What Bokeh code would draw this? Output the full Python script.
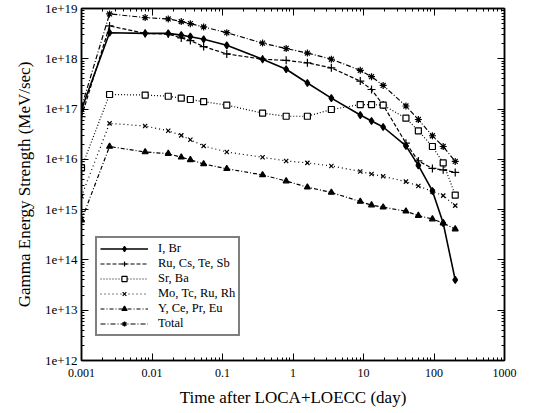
from bokeh.plotting import figure
from bokeh.models import LogAxis, Legend, LegendItem, FixedTicker
from bokeh.embed import file_html
from bokeh.resources import INLINE

# Time after LOCA+LOECC (day)
t = [0.001, 0.0025, 0.008, 0.017, 0.026, 0.035, 0.054, 0.115, 0.37, 0.8,
     1.6, 3.5, 9, 13, 19, 40, 60, 95, 135, 200]

# Gamma energy strength (MeV/sec)
i_br = [9.8e16, 3.3e18, 3.2e18, 3.2e18, 2.95e18, 2.75e18, 2.45e18, 1.85e18, 9.8e17, 6.2e17,
        3.3e17, 1.65e17, 7.6e16, 5.8e16, 4.4e16, 1.85e16, 7.6e15, 2.35e15, 5.4e14, 4.0e13]
ru_cs_te_sb = [7.1e16, 4.5e18, 3.2e18, 3.1e18, 2.6e18, 2.3e18, 1.75e18, 1.25e18, 9.8e17, 9.3e17,
               8.3e17, 6.6e17, 3.6e17, 2.45e17, 1.2e17, 2.1e16, 9.3e15, 6.6e15, 6.2e15, 5.5e15]
sr_ba = [6.8e15, 1.95e17, 1.9e17, 1.8e17, 1.65e17, 1.55e17, 1.4e17, 1.2e17, 8.3e16, 7.2e16,
         7.2e16, 9.8e16, 1.23e17, 1.23e17, 1.2e17, 6.6e16, 3.7e16, 1.8e16, 8.5e15, 1.95e15]
mo_tc_ru_rh = [1.85e15, 5.2e16, 4.6e16, 3.7e16, 3.0e16, 2.45e16, 1.85e16, 1.4e16, 1.1e16, 9.3e15,
               8.5e15, 7.4e15, 5.75e15, 5.1e15, 4.6e15, 3.6e15, 2.95e15, 2.3e15, 1.9e15, 1.2e15]
y_ce_pr_eu = [6.2e14, 1.8e16, 1.4e16, 1.3e16, 1.1e16, 9.8e15, 8.1e15, 6.5e15, 4.9e15, 3.7e15,
              2.8e15, 2.2e15, 1.45e15, 1.23e15, 1.12e15, 9.3e14, 7.6e14, 6.5e14, 5.4e14, 4.1e14]
total = [1.1e17, 7.8e18, 6.6e18, 6.2e18, 5.5e18, 5.0e18, 4.3e18, 3.3e18, 2.05e18, 1.6e18,
         1.3e18, 9.8e17, 5.9e17, 4.4e17, 2.95e17, 1.15e17, 6.2e16, 2.95e16, 1.8e16, 9.1e15]

series_names = ["I, Br", "Ru, Cs, Te, Sb", "Sr, Ba", "Mo, Tc, Ru, Rh", "Y, Ce, Pr, Eu", "Total"]

x_ticks = [0.001, 0.01, 0.1, 1, 10, 100, 1000]
x_tick_labels = ["0.001", "0.01", "0.1", "1", "10", "100", "1000"]
y_ticks = [1e12, 1e13, 1e14, 1e15, 1e16, 1e17, 1e18, 1e19]
y_tick_labels = ["1e+12", "1e+13", "1e+14", "1e+15", "1e+16", "1e+17", "1e+18", "1e+19"]

FONT = "Liberation Serif"

x_minor = [m * 10.0 ** e for e in range(-3, 3) for m in range(2, 10)]
y_minor = [m * 10.0 ** e for e in range(12, 19) for m in range(2, 10)]

p = figure(x_axis_type="log", y_axis_type="log",
           x_range=(0.001, 1000), y_range=(1e12, 1e19),
           frame_width=423, frame_height=352,
           min_border_left=81, min_border_right=34, min_border_top=8, min_border_bottom=45,
           output_backend="svg", toolbar_location=None,
           background_fill_color="white", border_fill_color="white")
p.grid.visible = False
p.outline_line_color = "black"
p.outline_line_width = 1.5

styles = [
    dict(data=i_br, marker="diamond", size=7, fill="black", dash="solid", lw=1.6),
    dict(data=ru_cs_te_sb, marker="cross", size=8, fill="black", dash="4 2", lw=1.2),
    dict(data=sr_ba, marker="square", size=6, fill="white", dash="1 2", lw=1.2),
    dict(data=mo_tc_ru_rh, marker="x", size=6, fill="black", dash="1 3", lw=1.2),
    dict(data=y_ce_pr_eu, marker="triangle", size=6, fill="black", dash="4 2 1 2", lw=1.2),
    dict(data=total, marker="asterisk", size=7, fill="black", dash="5 2 1 2", lw=1.2),
]

items = []
for name, st in zip(series_names, styles):
    ln = p.line(t, st["data"], line_color="black", line_width=st["lw"], line_dash=st["dash"])
    sc = p.scatter(t, st["data"], marker=st["marker"], size=st["size"],
                   line_color="black", fill_color=st["fill"], line_width=1.2)
    items.append(LegendItem(label=name, renderers=[ln, sc]))

legend = Legend(items=items, location=(14, 24),
                label_text_font=FONT, label_text_font_size="12.5px", label_text_color="black",
                label_text_line_height=1.0,
                label_height=13, glyph_height=13, glyph_width=48, spacing=0,
                padding=3, margin=0, label_standoff=10,
                border_line_color="black", border_line_width=2,
                background_fill_color="white", background_fill_alpha=1)
p.add_layout(legend)

for ax in (p.xaxis[0], p.yaxis[0]):
    ax.major_tick_out = 0
    ax.major_tick_in = 7
    ax.minor_tick_out = 0
    ax.minor_tick_in = 3
    ax.axis_line_width = 1.5
    ax.major_label_text_font = FONT
    ax.major_label_text_color = "black"
    ax.axis_label_text_font = FONT
    ax.axis_label_text_color = "black"
    ax.axis_label_text_font_style = "normal"

p.xaxis[0].ticker = FixedTicker(ticks=x_ticks, minor_ticks=x_minor)
p.xaxis[0].major_label_overrides = {v: s for v, s in zip(x_ticks, x_tick_labels)}
p.xaxis[0].major_label_text_font_size = "12px"
p.xaxis[0].major_label_standoff = 8
p.xaxis[0].axis_label = "Time after LOCA+LOECC (day)"
p.xaxis[0].axis_label_text_font_size = "17px"
p.xaxis[0].axis_label_standoff = 8

p.yaxis[0].ticker = FixedTicker(ticks=y_ticks, minor_ticks=y_minor)
p.yaxis[0].major_label_overrides = {v: s for v, s in zip(y_ticks, y_tick_labels)}
p.yaxis[0].major_label_text_font_size = "13px"
p.yaxis[0].major_label_standoff = 4
p.yaxis[0].axis_label = "Gamma Energy Strength (MeV/sec)"
p.yaxis[0].axis_label_text_font_size = "17px"
p.yaxis[0].axis_label_standoff = 8

# mirrored ticks on top and right (no labels)
for loc, ticks, minors in (("above", x_ticks, x_minor), ("right", y_ticks, y_minor)):
    ax = LogAxis(ticker=FixedTicker(ticks=ticks, minor_ticks=minors))
    ax.major_tick_out = 0
    ax.major_tick_in = 7
    ax.minor_tick_out = 0
    ax.minor_tick_in = 3
    ax.major_label_text_font_size = "1px"
    ax.major_label_text_alpha = 0
    ax.major_label_standoff = 0
    ax.axis_line_width = 1.5
    p.add_layout(ax, loc)

html = file_html(p, INLINE)
open("out.html", "w").write(html)
